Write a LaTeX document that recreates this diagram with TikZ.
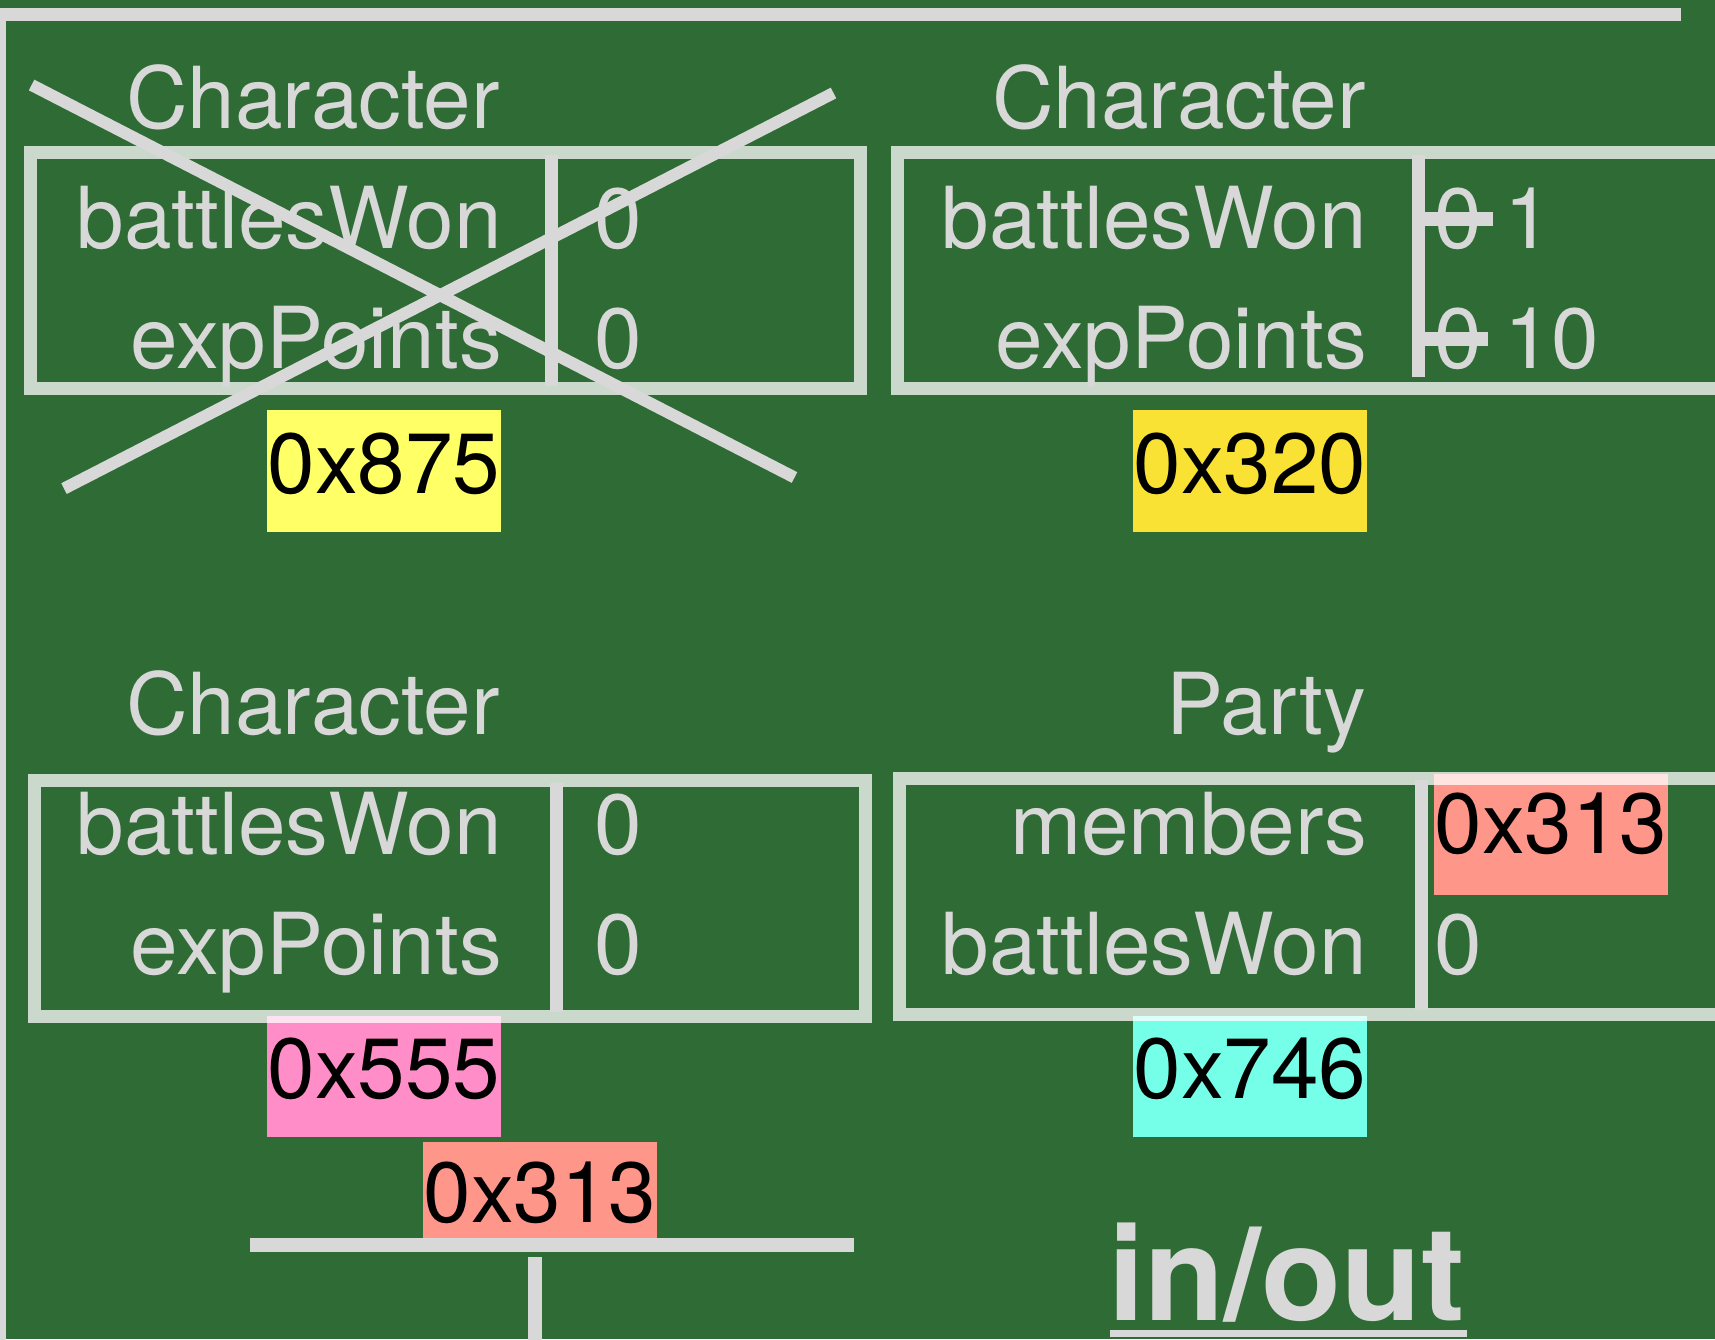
\documentclass[tikz,border=0pt]{standalone}
\usepackage{fontspec}
\setmainfont{TeX Gyre Heros}
\definecolor{bg}{HTML}{2F6B35}
\definecolor{chalk}{HTML}{D8D8D8}
\definecolor{yel}{HTML}{FFFF66}
\definecolor{gold}{HTML}{F9E234}
\definecolor{pinkc}{HTML}{FF8EC8}
\definecolor{salmon}{HTML}{FF968A}
\definecolor{aqua}{HTML}{76FFE8}
\begin{document}
\begin{tikzpicture}[x=1pt,y=-1pt,
  chalkline/.style={draw=chalk, line width=13pt},
  frame/.style={draw=white, draw opacity=0.75, line width=13pt},
  big/.style={font=\fontsize{85.5}{100}\selectfont},
  lbl/.style={big, text=chalk, inner sep=0pt, anchor=base east},
  val/.style={big, text=chalk, inner sep=0pt, anchor=base west},
  addr/.style={big, text=black, inner sep=0pt, anchor=base, minimum width=234pt},
]
\clip (0,0) rectangle (1715,1339);
\fill[bg] (0,0) rectangle (1715,1339);

% border lines
\draw[chalkline] (0,14.5) -- (1681,14.5);
\draw[chalkline, line width=5.5pt] (2.75,21) -- (2.75,1345);

% address boxes
\node[addr, fill=yel, text height=83pt, text depth=39pt] (a875) at (384,493) {0x875};
\node[addr, fill=gold, text height=83pt, text depth=39pt] (a320) at (1250,493) {0x320};
\node[addr, fill=pinkc, text height=82pt, text depth=39pt] (a555) at (384,1098) {0x555};
\node[addr, fill=aqua, text height=82pt, text depth=39pt] (a746) at (1250,1098) {0x746};
\node[addr, fill=salmon, text height=80.5pt, text depth=20pt] (a313b) at (540,1222) {0x313};
\node[addr, fill=salmon, text height=79pt, text depth=42pt] (a313p) at (1551,853) {0x313};

% frames
\draw[frame] (30.5,152.5) rectangle (860.5,388.5);
\draw[frame] (897,152.5) rectangle (1740,388.5);
\draw[frame] (34,780.5) rectangle (865,1016);
\draw[frame] (899,778) rectangle (1740,1014);

% dividers
\draw[chalkline] (551.5,155) -- (551.5,386);
\draw[chalkline] (1418.3,155) -- (1418.3,377);
\draw[chalkline] (556,783) -- (556,1012);
\draw[chalkline] (1421,780) -- (1421,1010);

% box 1
\node[lbl] (t1) at (500,128) {Character};
\node[lbl] (l1a) at (502,248) {battlesWon};
\node[lbl] (l1b) at (502,368) {expPoints};
\node[val] (v1a) at (594,248) {0};
\node[val] (v1b) at (594,368) {0};

% box 2
\node[lbl] (t2) at (1366,128) {Character};
\node[lbl] (l2a) at (1367,248) {battlesWon};
\node[lbl] (l2b) at (1367,368) {expPoints};
\node[val] (v2a) at (1434,248) {0};
\node[val] (v2b) at (1434,368) {0};
\node[val] (n2a) at (1504,248) {1};
\node[val] (n2b) at (1504,368) {10};
\draw[chalkline, line width=14pt] (1418,219) -- (1493,219);
\draw[chalkline, line width=14pt] (1418,338.5) -- (1488,338.5);

% box 3
\node[lbl] (t3) at (500,734) {Character};
\node[lbl] (l3a) at (502,854) {battlesWon};
\node[lbl] (l3b) at (502,974) {expPoints};
\node[val] (v3a) at (594,854) {0};
\node[val] (v3b) at (594,974) {0};

% box 4
\node[lbl] (t4) at (1366,734) {Party};
\node[lbl] (l4a) at (1367,854) {members};
\node[lbl] (l4b) at (1367,974) {battlesWon};
\node[val] (v4b) at (1434,974) {0};

% cross
\draw[chalkline, line width=12pt] (31.6,85) -- (794.5,477.5);
\draw[chalkline, line width=12pt] (833.5,93) -- (64,488.6);

% bottom T
\draw[chalkline, line width=14pt] (250,1245) -- (854,1245);
\draw[chalkline, line width=14pt] (534.5,1257) -- (534.5,1345);

% in/out
\node[text=chalk, inner sep=0pt, anchor=base west, font=\fontsize{131}{150}\selectfont\bfseries] (io) at (1108,1320) {in/out};
\draw[draw=chalk, line width=6.5pt] ([xshift=2pt,yshift=-13.5pt]io.base west) -- ([xshift=2pt,yshift=-13.5pt]io.base east);
\end{tikzpicture}
\end{document}
